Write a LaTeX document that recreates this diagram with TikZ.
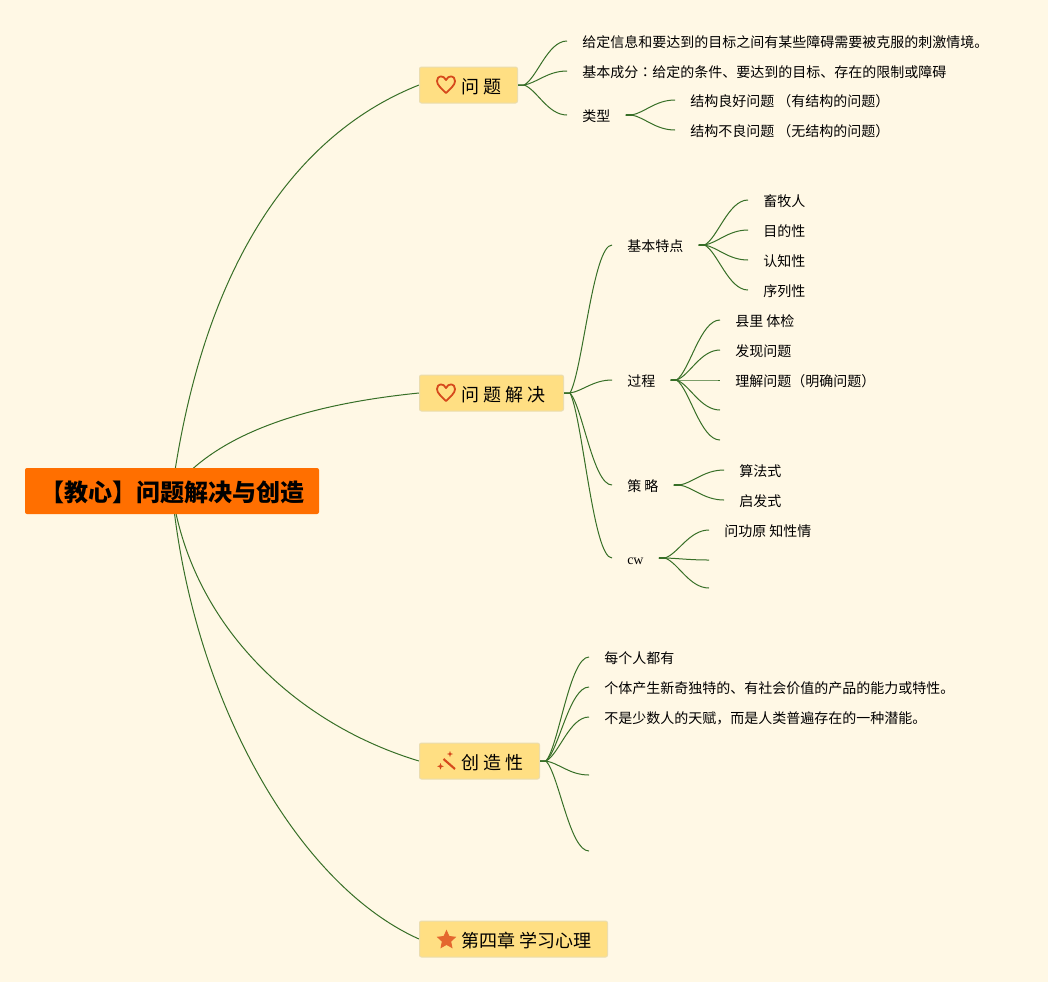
\documentclass[tikz,border=0pt]{standalone}
\usepackage{fontspec}
\setmainfont{Noto Sans CJK SC}
\newfontfamily\latinserif{Liberation Serif}
\newfontfamily\tcfont{Noto Sans CJK TC}
\usetikzlibrary{calc,backgrounds,shapes.geometric}
\definecolor{bgc}{HTML}{FFF8E5}
\definecolor{rootc}{HTML}{FF6F00}
\definecolor{topicc}{HTML}{FFDF83}
\definecolor{topicb}{HTML}{EBDDAF}
\definecolor{linec}{HTML}{376F27}
\definecolor{iconc}{HTML}{D6491C}
\definecolor{starc}{HTML}{E4672F}
\tikzset{
  x=0.75pt,y=-0.75pt,
  rootbox/.style={fill=rootc,rounded corners=1.5pt,minimum width=220.5pt,minimum height=34.5pt,inner sep=0pt,font=\fontsize{18}{20}\selectfont\bfseries,text=black,text height=17pt,text depth=1.1pt},
  topicbox/.style={anchor=west,fill=topicc,draw=topicb,line width=0.75pt,rounded corners=1.5pt,minimum height=27pt,inner sep=0pt,font=\fontsize{13.5}{16}\selectfont,text=black,text height=13pt,text depth=0.6pt},
  leaf/.style={anchor=west,inner ysep=0pt,inner xsep=11.25pt,font=\fontsize{10.5}{12}\selectfont,text=black,text height=10.5pt,text depth=0.5pt},
  tip/.style={anchor=west,inner sep=0pt,minimum size=0pt},
  link/.style={draw=linec,line width=0.75pt},
  stub/.style={draw=linec,line width=1.2pt},
}
\newcommand{\conn}[2]{%
  \draw[link] let \p1=($(#1.east)+(6,0)$),\p2=(#2.west),\n1={\x2-\x1},\n2={\y2-\y1} in
    (#1.east) -- (\p1) .. controls ({\x1+0.3*\n1},{\y1+0.15*\n2}) and ({\x1+0.55*\n1},\y2) .. (\p2);}
\newcommand{\rootlink}[3]{%
  \draw[link] (root.center) .. controls #2 and #3 .. (#1.west);}
\newcommand{\stubat}[1]{\draw[stub] (#1.east) -- ++(7,0);}
\newcommand{\tbox}[2]{\makebox[#1][l]{\hspace*{31.5pt}#2}}
\begin{document}
\begin{tikzpicture}
\useasboundingbox (0,0) rectangle (1048,982);
\begin{scope}[on background layer]
\fill[bgc] (0,0) rectangle (1048,982);
\end{scope}

\node[rootbox] (root) at (172,491) {【教心】问题解决与创造};

\node[topicbox] (t1) at (419,85) {\tbox{73.5pt}{问 题}};
\node[topicbox] (t2) at (419,393) {\tbox{108pt}{问 题 解 决}};
\node[topicbox] (t3) at (419,761) {\tbox{90pt}{创 造 性}};
\node[topicbox] (t4) at (419,939) {\tbox{141pt}{第四章 学习心理}};

% icons
\draw[iconc,line width=1.35pt,line join=round] (446,93) .. controls (441,88) and (437,85) .. (437,81) .. controls (437,75) and (444,75) .. (446,80) .. controls (448,75) and (455,75) .. (455,81) .. controls (455,85) and (451,88) .. (446,93) -- cycle;
\draw[iconc,line width=1.35pt,line join=round] (446,401) .. controls (441,396) and (437,393) .. (437,389) .. controls (437,383) and (444,383) .. (446,388) .. controls (448,383) and (455,383) .. (455,389) .. controls (455,393) and (451,396) .. (446,401) -- cycle;
\node[star,star points=5,star point ratio=2.1,fill=starc,inner sep=0pt,minimum size=15.5pt] (staricon) at (446.5,940) {};
\draw[iconc,line width=1.6pt] (443.5,759) -- (455,769);
\fill[iconc] (450,751) -- (450.8,753.2) -- (453,754) -- (450.8,754.8) -- (450,757) -- (449.2,754.8) -- (447,754) -- (449.2,753.2) -- cycle;
\fill[iconc] (440.5,763) -- (441.4,765.4) -- (443.8,766.3) -- (441.4,767.2) -- (440.5,769.6) -- (439.6,767.2) -- (437.2,766.3) -- (439.6,765.4) -- cycle;

% level 2
\node[leaf] (a1) at (567,41) {给定信息和要达到的目标之间有某些障碍需要被克服的刺激情境。};
\node[leaf] (a2) at (567,71) {基本成分{\tcfont ：}给定的条件、要达到的目标、存在的限制或障碍};
\node[leaf] (a3) at (567,115) {类型};
\node[leaf] (a31) at (675,100) {结构良好问题 （有结构的问题）};
\node[leaf] (a32) at (675,130) {结构不良问题 （无结构的问题）};

\node[leaf] (b1) at (612,245) {基本特点};
\node[leaf] (b11) at (748,200) {畜牧人};
\node[leaf] (b12) at (748,230) {目的性};
\node[leaf] (b13) at (748,260) {认知性};
\node[leaf] (b14) at (748,290) {序列性};

\node[leaf] (b2) at (612,380) {过程};
\node[leaf] (b21) at (720,320) {县里 体检};
\node[leaf] (b22) at (720,350) {发现问题};
\node[leaf] (b23) at (720,380) {理解问题（明确问题）};
\node[tip] (b24) at (720,410) {};
\node[tip] (b25) at (720,440) {};

\node[leaf] (b3) at (612,485) {策 略};
\node[leaf] (b31) at (724,470) {算法式};
\node[leaf] (b32) at (724,500) {启发式};

\node[leaf] (b4) at (612,558) {\latinserif cw};
\node[leaf] (b41) at (709,530) {问功原 知性情};
\node[tip] (b42) at (709,560) {};
\node[tip] (b43) at (709,588) {};

\node[leaf] (c1) at (589,657) {每个人都有};
\node[leaf] (c2) at (589,687) {个体产生新奇独特的、有社会价值的产品的能力或特性。};
\node[leaf] (c3) at (589,717) {不是少数人的天赋，而是人类普遍存在的一种潜能。};
\node[tip] (c4) at (589,775) {};
\node[tip] (c5) at (589,851) {};

\begin{scope}[on background layer]
\rootlink{t1}{(205,250)}{(305,130)}
\rootlink{t2}{(222,425)}{(330,402)}
\rootlink{t3}{(190,620)}{(290,722)}
\rootlink{t4}{(192,700)}{(298,885)}
\end{scope}

\foreach \u/\v in {t1/a1,t1/a2,t1/a3,a3/a31,a3/a32,
  t2/b1,t2/b2,t2/b3,t2/b4,
  b1/b11,b1/b12,b1/b13,b1/b14,
  b2/b21,b2/b22,b2/b23,b2/b24,b2/b25,
  b3/b31,b3/b32,
  b4/b41,b4/b42,b4/b43,
  t3/c1,t3/c2,t3/c3,t3/c4,t3/c5}{\conn{\u}{\v}}
\foreach \u in {a3,b1,b2,b3,b4}{\stubat{\u}}
\end{tikzpicture}
\end{document}
